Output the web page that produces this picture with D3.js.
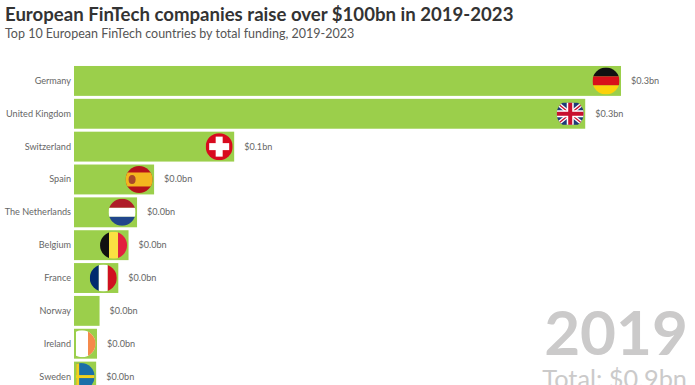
<!DOCTYPE html>
<html>
<head>
<meta charset="utf-8">
<script src="https://cdn.jsdelivr.net/npm/d3@7"></script>
<style>
  html, body { margin: 0; padding: 0; background: #fff; overflow: hidden; }
  text { font-family: "Lato", sans-serif; }
</style>
</head>
<body>
<script>
// values, in $bn
var countries = ["Germany", "United Kingdom", "Switzerland", "Spain", "The Netherlands", "Belgium", "France", "Norway", "Ireland", "Sweden"];
var funding = [0.321, 0.3, 0.094, 0.047, 0.037, 0.032, 0.026, 0.015, 0.0135, 0.013];
var flagCodes = ["de", "gb", "ch", "es", "nl", "be", "fr", null, "ie", "se"];
var year = "2019";
var total = "Total: $0.9bn";

var svg = d3.select("body").append("svg")
	.attr("width", 695)
	.attr("height", 385);

var xScale = d3.scaleLinear()
	.domain([0, 0.321])
	.range([74, 621]);

var yScale = d3.scaleBand()
	.domain(countries)
	.range([64.5, 393])
	.paddingInner(0.09)
	.paddingOuter(0.045);

var fmt = d3.format("$.1f");

svg.append("text")
	.attr("x", 5).attr("y", 21)
	.attr("font-size", 18.6).attr("font-weight", 700)
	.attr("fill", "#333")
	.text("European FinTech companies raise over $100bn in 2019-2023");

svg.append("text")
	.attr("x", 5).attr("y", 38)
	.attr("font-size", 12.5)
	.attr("fill", "#555")
	.text("Top 10 European FinTech countries by total funding, 2019-2023");

// big year + total, bottom right
svg.append("text")
	.attr("x", 688).attr("y", 355)
	.attr("text-anchor", "end")
	.attr("font-size", 62).attr("font-weight", 700)
	.attr("fill", "#cbcaca")
	.text(year);

svg.append("text")
	.attr("x", 687).attr("y", 388)
	.attr("text-anchor", "end")
	.attr("font-size", 25.3)
	.attr("fill", "#cbcaca")
	.text(total);

var rows = svg.selectAll("g.row")
	.data(countries)
	.enter()
	.append("g")
	.attr("class", "row");

rows.append("text")
	.attr("x", 71)
	.attr("y", d => yScale(d) + yScale.bandwidth() / 2 + 3)
	.attr("text-anchor", "end")
	.attr("font-size", 9.1)
	.attr("fill", "#666")
	.text(d => d);

rows.append("rect")
	.attr("x", xScale(0))
	.attr("y", d => yScale(d))
	.attr("width", (d, i) => xScale(funding[i]) - xScale(0))
	.attr("height", yScale.bandwidth())
	.attr("fill", "#9bcf4b");

rows.append("text")
	.attr("x", (d, i) => xScale(funding[i]) + 10)
	.attr("y", d => yScale(d) + yScale.bandwidth() / 2 + 3)
	.attr("font-size", 9.1)
	.attr("fill", "#666")
	.text((d, i) => fmt(funding[i]) + "bn");

// flags: stripes inside a circle, cut off just after the start of the bar
var R = 13.5;
var defs = svg.append("defs");

defs.append("clipPath").attr("id", "barstart")
	.append("rect")
	.attr("x", xScale(0) + 2).attr("y", 0)
	.attr("width", 695).attr("height", 385);

countries.forEach(function(name, i) {
	var code = flagCodes[i];
	if (!code) return;
	var cx = xScale(funding[i]) - 15;
	var cy = yScale(name) + yScale.bandwidth() / 2;
	var id = "clip-" + code;
	var clip = defs.append("clipPath").attr("id", id);
	clip.append("circle").attr("cx", cx).attr("cy", cy).attr("r", R);
	// irish flag keeps square corners on its left side
	if (code == "ie") clip.append("rect").attr("x", cx - R).attr("y", cy - 12).attr("width", R).attr("height", 24);
	var g = svg.append("g")
		.attr("clip-path", "url(#barstart)")
		.append("g")
		.attr("clip-path", "url(#" + id + ")");
	drawFlag(g, code, cx, cy);
});

function band(g, x, y, w, h, color) {
	g.append("rect").attr("x", x).attr("y", y).attr("width", w).attr("height", h).attr("fill", color);
}

function drawFlag(g, code, cx, cy) {
	var l = cx - R, t = cy - R, s = 2 * R, third = s / 3;
	if (code == "de") {
		band(g, l, t, s, third, "#111");
		band(g, l, t + third, s, third, "#d8101a");
		band(g, l, t + 2 * third, s, third, "#fcd20a");
	} else if (code == "gb") {
		var cross = "M" + l + "," + (cy - 11) + "L" + (l + s) + "," + (cy + 11) + "M" + (l + s) + "," + (cy - 11) + "L" + l + "," + (cy + 11);
		band(g, l, cy - 11, s, 22, "#1f3a78");
		g.append("path").attr("d", cross).attr("stroke", "#fff").attr("stroke-width", 4);
		g.append("path").attr("d", cross).attr("stroke", "#c8102e").attr("stroke-width", 1.3);
		band(g, cx - 3.5, cy - 11, 7, 22, "#fff");
		band(g, l, cy - 3.5, s, 7, "#fff");
		band(g, cx - 2, cy - 11, 4, 22, "#c8102e");
		band(g, l, cy - 2, s, 4, "#c8102e");
	} else if (code == "ch") {
		band(g, l, t, s, s, "#d80a1e");
		band(g, cx - 3.5, cy - 10, 7, 20, "#fff");
		band(g, cx - 10, cy - 3.5, 20, 7, "#fff");
	} else if (code == "es") {
		band(g, l, t, s, s, "#b5121b");
		band(g, l, cy - 7, s, 14, "#f3b61f");
		g.append("ellipse").attr("cx", cx - 7).attr("cy", cy).attr("rx", 3.5).attr("ry", 4.5).attr("fill", "#a8482a");
	} else if (code == "nl") {
		band(g, l, t, s, third, "#ae1c28");
		band(g, l, t + third, s, third, "#fff");
		band(g, l, t + 2 * third, s, third, "#21468b");
	} else if (code == "be") {
		band(g, l, t, third, s, "#111");
		band(g, l + third, t, third, s, "#fae042");
		band(g, l + 2 * third, t, third, s, "#e2203f");
	} else if (code == "fr") {
		band(g, l, t, third, s, "#002a6e");
		band(g, l + third, t, third, s, "#fff");
		band(g, l + 2 * third, t, third, s, "#d01020");
	} else if (code == "ie") {
		band(g, l, t, s, s, "#fff");
		band(g, cx + 6, t, s, s, "#f58a4b");
	} else if (code == "se") {
		band(g, l, t, s, s, "#1a6fa8");
		band(g, cx - 5, t, 3, s, "#f2d11e");
		band(g, l, cy - 1.5, s, 3, "#f2d11e");
	}
}
</script>
</body>
</html>
